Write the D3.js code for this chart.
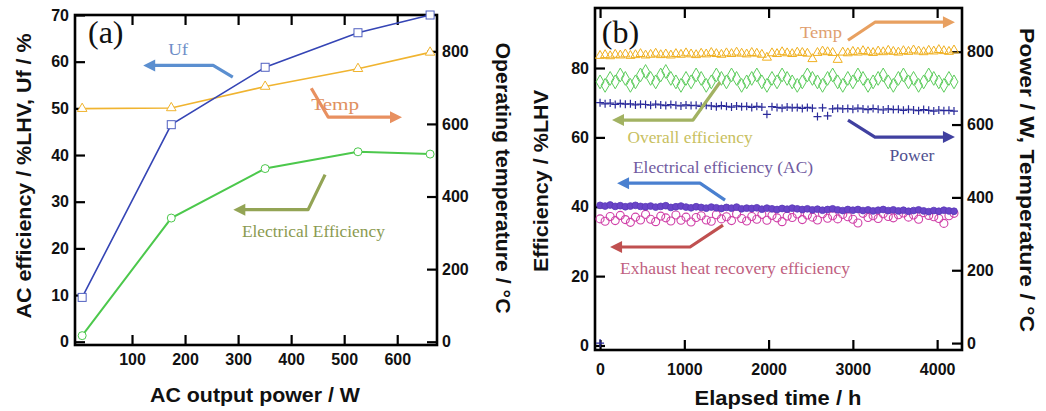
<!DOCTYPE html>
<html>
<head>
<meta charset="utf-8">
<script src="https://cdn.jsdelivr.net/npm/d3@7"></script>
<style>
  body { margin: 0; background: #fff; }
  svg { display: block; }
</style>
</head>
<body>
<svg id="chart" width="1046" height="411"></svg>
<script>
// ---- panel (a): AC output power sweep ----
var powerA = [6, 174, 351, 526, 662];
var ufA    = [9.5, 46.5, 58.8, 66.2, 70.0];
var effA   = [1.3, 26.5, 37.1, 40.7, 40.2];
var tempA  = [642, 644, 703, 752, 797];

var ticksAx  = [100, 200, 300, 400, 500, 600];
var ticksAyL = [0, 10, 20, 30, 40, 50, 60, 70];
var ticksAyR = [0, 200, 400, 600, 800];

// ---- panel (b): durability test ----
var hours = [
  0, 60, 120, 180, 240, 300, 360, 420, 480, 540,
  600, 660, 720, 780, 840, 900, 960, 1020, 1080, 1140,
  1200, 1260, 1320, 1380, 1440, 1500, 1560, 1620, 1680, 1740,
  1800, 1860, 1920, 1980, 2040, 2100, 2160, 2220, 2280, 2340,
  2400, 2460, 2520, 2580, 2640, 2700, 2760, 2820, 2880, 2940,
  3000, 3060, 3120, 3180, 3240, 3300, 3360, 3420, 3480, 3540,
  3600, 3660, 3720, 3780, 3840, 3900, 3960, 4020, 4080, 4140,
  4200];
var tempB = [
  789, 791, 788, 792, 790, 793, 789, 791, 794, 790,
  792, 795, 791, 793, 790, 794, 792, 796, 793, 791,
  795, 793, 797, 794, 792, 796, 794, 798, 795, 793,
  797, 795, 792, 784, 796, 794, 799, 796, 794, 798,
  797, 795, 780, 797, 801, 799, 797, 778, 798, 796,
  800, 798, 802, 799, 797, 801, 799, 803, 800, 798,
  802, 800, 804, 801, 799, 803, 801, 805, 802, 800,
  804];
var overallB = [
  76, 75, 77, 76, 78, 77, 75, 76, 78, 79,
  77, 76, 78, 79, 77, 76, 75, 77, 76, 78,
  77, 75, 76, 78, 77, 76, 78, 77, 75, 76,
  77, 78, 76, 75, 77, 76, 78, 77, 76, 75,
  76, 78, 77, 76, 75, 77, 78, 76, 75, 77,
  76, 78, 77, 75, 76, 77, 78, 76, 75, 77,
  78, 76, 77, 75, 76, 78, 77, 76, 75, 77,
  76];
var powerB = [
  660, 657, 659, 655, 658, 656, 657, 654, 656, 655,
  653, 656, 654, 652, 655, 653, 651, 654, 652, 653,
  650, 653, 651, 649, 652, 650, 648, 651, 649, 650,
  647, 650, 648, 628, 649, 647, 645, 648, 646, 647,
  644, 647, 645, 622, 646, 624, 643, 645, 643, 644,
  642, 645, 643, 641, 644, 642, 640, 643, 641, 642,
  639, 642, 640, 638, 641, 639, 637, 640, 638, 639,
  637];
var elecB = [
  40.4, 40.2, 40.5, 40.1, 40.3, 40.0, 40.2, 40.4, 40.1, 40.0,
  40.2, 39.9, 40.1, 40.3, 39.8, 40.0, 40.2, 39.9, 39.7, 40.0,
  39.8, 39.6, 39.9, 39.7, 39.5, 39.8, 39.6, 39.9, 39.4, 39.6,
  39.5, 39.7, 39.3, 39.6, 39.4, 39.2, 39.5, 39.3, 39.6, 39.4,
  39.2, 39.4, 39.1, 39.3, 39.0, 39.2, 39.4, 39.1, 38.9, 39.2,
  39.0, 39.2, 38.9, 39.1, 38.8, 39.0, 39.2, 38.9, 39.1, 38.8,
  39.0, 38.7, 38.9, 39.1, 38.8, 38.6, 38.9, 38.7, 39.0, 38.8,
  38.7];
var exhaustB = [
  36.5, 35.8, 37.2, 36.0, 37.5, 36.3, 35.5, 37.0, 36.2, 37.8,
  36.4, 35.7, 37.3, 36.8, 35.9, 37.6, 36.1, 37.0, 35.6, 36.9,
  37.4, 36.2, 35.8, 37.7, 36.5, 37.1, 36.0, 37.9, 36.6, 35.9,
  37.2, 36.4, 37.8, 36.1, 37.5, 36.8, 35.7, 37.3, 36.9, 37.9,
  36.3, 37.6, 37.0, 36.2, 38.0, 36.7, 37.4, 36.5, 37.8, 37.1,
  36.4, 35.3, 38.1, 36.9, 37.4, 36.6, 38.0, 37.2, 36.8, 37.7,
  38.2, 37.0, 37.6, 36.4, 38.3, 37.5, 37.1, 36.6, 35.2, 37.4,
  38.1];
// single start-up point sitting on the axis
var startHours = [0];
var startPower = [0];

var ticksBx  = [0, 1000, 2000, 3000, 4000];
var ticksByL = [0, 20, 40, 60, 80];
var ticksByR = [0, 200, 400, 600, 800];

var svg = d3.select('#chart');
var tickFont = 'bold 16px "Liberation Sans", Arial, sans-serif';
var titleFont = 'bold 20px "Liberation Sans", Arial, sans-serif';
var noteFont = '17px "Liberation Serif", "Times New Roman", serif';

// scales
var xA  = d3.scaleLinear().domain([-7.5, 675]).range([75, 437]);
var yAL = d3.scaleLinear().domain([-0.7, 70]).range([345, 15]);
var yAR = d3.scaleLinear().domain([-9, 900]).range([345, 15]);

var xB  = d3.scaleLinear().domain([-60, 4295]).range([595, 962]);
var yBL = d3.scaleLinear().domain([-1.3, 97.3]).range([350, 8]);
var yBR = d3.scaleLinear().domain([-19, 920]).range([350, 8]);

function styleAxis(g) {
  g.select('.domain').remove();
  g.selectAll('line').attr('stroke', '#000').attr('stroke-width', 2.2);
  g.selectAll('text').style('font', tickFont).attr('fill', '#111');
}

function frame(x, yl, yr, tx, tyl, tyr, bottomPad) {
  var x0 = x.range()[0], x1 = x.range()[1];
  var y0 = yl.range()[0], y1 = yl.range()[1];
  var fmt = d3.format('d');
  svg.append('g').attr('transform', 'translate(0,' + y0 + ')')
    .call(d3.axisBottom(x).tickValues(tx).tickFormat(fmt).tickSizeInner(-10).tickSizeOuter(0).tickPadding(bottomPad))
    .call(styleAxis);
  svg.append('g').attr('transform', 'translate(0,' + y1 + ')')
    .call(d3.axisTop(x).tickValues(tx).tickSizeInner(-10).tickSizeOuter(0).tickFormat(''))
    .call(styleAxis);
  svg.append('g').attr('transform', 'translate(' + x0 + ',0)')
    .call(d3.axisLeft(yl).tickValues(tyl).tickFormat(fmt).tickSizeInner(-10).tickSizeOuter(0).tickPadding(6))
    .call(styleAxis);
  svg.append('g').attr('transform', 'translate(' + x1 + ',0)')
    .call(d3.axisRight(yr).tickValues(tyr).tickFormat(fmt).tickSizeInner(-10).tickSizeOuter(0).tickPadding(5))
    .call(styleAxis);
  svg.append('rect')
    .attr('x', x0).attr('y', y1).attr('width', x1 - x0).attr('height', y0 - y1)
    .attr('fill', 'none').attr('stroke', '#000').attr('stroke-width', 2.6);
}

function title(txt, x, y, rot, len) {
  svg.append('text')
    .attr('transform', 'translate(' + x + ',' + y + ') rotate(' + rot + ')')
    .attr('text-anchor', 'middle').attr('dy', '0.35em')
    .attr('textLength', len).attr('lengthAdjust', 'spacingAndGlyphs')
    .style('font', titleFont).attr('fill', '#111')
    .text(txt);
}

function note(txt, x, y, color, len) {
  svg.append('text').attr('x', x).attr('y', y).attr('dy', '0.35em')
    .attr('text-anchor', 'middle').style('font', noteFont).attr('fill', color)
    .attr('textLength', len).attr('lengthAdjust', 'spacingAndGlyphs')
    .text(txt);
}

function arrow(pts, color) {
  var a = pts[pts.length - 1], b = pts[pts.length - 2];
  var ang = Math.atan2(a[1] - b[1], a[0] - b[0]);
  var L = 12, w = 6;
  var cx = Math.cos(ang), sy = Math.sin(ang);
  var line = pts.slice(0, -1).concat([[a[0] - cx * L * 0.7, a[1] - sy * L * 0.7]]);
  svg.append('path').attr('d', d3.line()(line))
    .attr('fill', 'none').attr('stroke', color).attr('stroke-width', 3.2)
    .attr('stroke-linejoin', 'round');
  var bx = a[0] - cx * L, by = a[1] - sy * L;
  svg.append('path')
    .attr('d', 'M' + a[0] + ',' + a[1] + 'L' + (bx - sy * w) + ',' + (by + cx * w) +
      'L' + (bx + sy * w) + ',' + (by - cx * w) + 'Z')
    .attr('fill', color);
}

var plus = { draw: function(ctx) { ctx.moveTo(-4, 0); ctx.lineTo(4, 0); ctx.moveTo(0, -4); ctx.lineTo(0, 4); } };

// ---------------- panel (a) ----------------
frame(xA, yAL, yAR, ticksAx, ticksAyL, ticksAyR, 9);

var ptsUf = powerA.map(function(d, i) { return [xA(d), yAL(ufA[i])]; });
var ptsEff = powerA.map(function(d, i) { return [xA(d), yAL(effA[i])]; });
var ptsTemp = powerA.map(function(d, i) { return [xA(d), yAR(tempA[i])]; });

svg.append('path').attr('d', d3.line()(ptsTemp)).attr('fill', 'none')
  .attr('stroke', '#f0b430').attr('stroke-width', 1.6);
svg.append('path').attr('d', d3.line()(ptsUf)).attr('fill', 'none')
  .attr('stroke', '#3545b5').attr('stroke-width', 1.6);
svg.append('path').attr('d', d3.line()(ptsEff)).attr('fill', 'none')
  .attr('stroke', '#4cc84c').attr('stroke-width', 2);

svg.selectAll('.ufm').data(ptsUf).enter().append('rect').attr('class', 'ufm')
  .attr('x', d => d[0] - 4).attr('y', d => d[1] - 4).attr('width', 8).attr('height', 8)
  .attr('fill', '#fff').attr('stroke', '#5060c0').attr('stroke-width', 1);
svg.selectAll('.tm').data(ptsTemp).enter().append('path').attr('class', 'tm')
  .attr('transform', d => 'translate(' + d[0] + ',' + d[1] + ')')
  .attr('d', d3.symbol().type(d3.symbolTriangle).size(40))
  .attr('fill', '#fff').attr('stroke', '#f0b430').attr('stroke-width', 1);
svg.selectAll('.em').data(ptsEff).enter().append('circle').attr('class', 'em')
  .attr('cx', d => d[0]).attr('cy', d => d[1]).attr('r', 4)
  .attr('fill', '#fff').attr('stroke', '#4cc84c').attr('stroke-width', 1);

svg.append('text').attr('x', xA(17)).attr('y', yAL(66.3)).attr('dy', '0.35em')
  .style('font', '32px "Liberation Serif", "Times New Roman", serif').attr('fill', '#111')
  .text('(a)');

note('Uf', xA(187), yAL(62.7), '#6f8fc8', 20);
arrow([[xA(290), yAL(56.7)], [xA(253), yAL(59.2)], [xA(121), yAL(59.2)]], '#5b8fd0');
note('Temp', xA(483), yAL(51), '#e09060', 48);
arrow([[xA(438), yAL(54.3)], [xA(470), yAL(48.1)], [xA(609), yAL(48.1)]], '#e89060');
note('Electrical Efficiency', xA(442), yAL(23.8), '#8a9a50', 143);
arrow([[xA(464), yAL(35.8)], [xA(432), yAL(28.3)], [xA(291), yAL(28.3)]], '#93a455');

title('AC efficiency / %LHV, Uf / %', 24, 176, -90, 285);
title('Operating temperature / \u00b0C', 503, 178, 90, 271);
title('AC output power / W', 255, 395, 0, 210);

// ---------------- panel (b) ----------------
frame(xB, yBL, yBR, ticksBx, ticksByL, ticksByR, 14);

var marks = svg.append('g');

marks.selectAll('.ov').data(hours).enter().append('path').attr('class', 'ov')
  .attr('transform', (d, i) => 'translate(' + xB(d) + ',' + yBL(overallB[i]) + ')')
  .attr('d', d3.symbol().type(d3.symbolDiamond).size(55))
  .attr('fill', 'none').attr('stroke', '#5ccc5c').attr('stroke-width', 1);

marks.selectAll('.tb').data(hours).enter().append('path').attr('class', 'tb')
  .attr('transform', (d, i) => 'translate(' + xB(d) + ',' + yBR(tempB[i]) + ')')
  .attr('d', d3.symbol().type(d3.symbolTriangle).size(36))
  .attr('fill', 'none').attr('stroke', '#f0b020').attr('stroke-width', 1);

marks.selectAll('.pb').data(hours).enter().append('path').attr('class', 'pb')
  .attr('transform', (d, i) => 'translate(' + xB(d) + ',' + yBR(powerB[i]) + ')')
  .attr('d', d3.symbol().type(plus))
  .attr('fill', 'none').attr('stroke', '#2a2a9a').attr('stroke-width', 1.2);

marks.selectAll('.ps').data(startHours).enter().append('path').attr('class', 'ps')
  .attr('transform', (d, i) => 'translate(' + xB(d) + ',' + yBR(startPower[i]) + ')')
  .attr('d', d3.symbol().type(plus))
  .attr('fill', 'none').attr('stroke', '#2a2a9a').attr('stroke-width', 1.2);

marks.selectAll('.xb').data(hours).enter().append('circle').attr('class', 'xb')
  .attr('cx', d => xB(d)).attr('cy', (d, i) => yBL(exhaustB[i])).attr('r', 4)
  .attr('fill', 'none').attr('stroke', '#d040a8').attr('stroke-width', 1.1);

marks.selectAll('.eb').data(hours).enter().append('circle').attr('class', 'eb')
  .attr('cx', d => xB(d)).attr('cy', (d, i) => yBL(elecB[i])).attr('r', 3.4)
  .attr('fill', '#6a44c8').attr('stroke', '#5a3ab8').attr('stroke-width', 0.8);

svg.append('text').attr('x', xB(20)).attr('y', yBL(90.3)).attr('dy', '0.35em')
  .style('font', '32px "Liberation Serif", "Times New Roman", serif').attr('fill', '#111')
  .text('(b)');

note('Temp', xB(2622), yBL(90.3), '#e0a070', 42);
arrow([[xB(2942), yBL(88.0)], [xB(3262), yBL(93.2)], [xB(4211), yBL(93.2)]], '#e8a060');
note('Overall efficiency', xB(1068), yBL(60.1), '#c8c060', 125);
arrow([[xB(1423), yBL(75.9)], [xB(1103), yBL(65.0)], [xB(142), yBL(65.0)]], '#a2b262');
note('Electrical efficiency (AC)', xB(1459), yBL(51.4), '#705aa0', 180);
arrow([[xB(1483), yBL(41.9)], [xB(1186), yBL(46.8)], [xB(202), yBL(46.8)]], '#4a80d0');
note('Power', xB(3701), yBL(54.9), '#505090', 45);
arrow([[xB(2942), yBL(65.0)], [xB(3262), yBL(60.1)], [xB(4211), yBL(60.1)]], '#4040a0');
note('Exhaust heat recovery efficiency', xB(1601), yBL(22.3), '#c06080', 230);
arrow([[xB(1459), yBL(34.7)], [xB(1068), yBL(28.4)], [xB(119), yBL(28.4)]], '#c05050');

title('Efficiency / %LHV', 541, 181, -90, 182);
title('Power / W, Temperature / \u00b0C', 1027, 180, 90, 304);
title('Elapsed time / h', 778, 398, 0, 167);
</script>
</body>
</html>
